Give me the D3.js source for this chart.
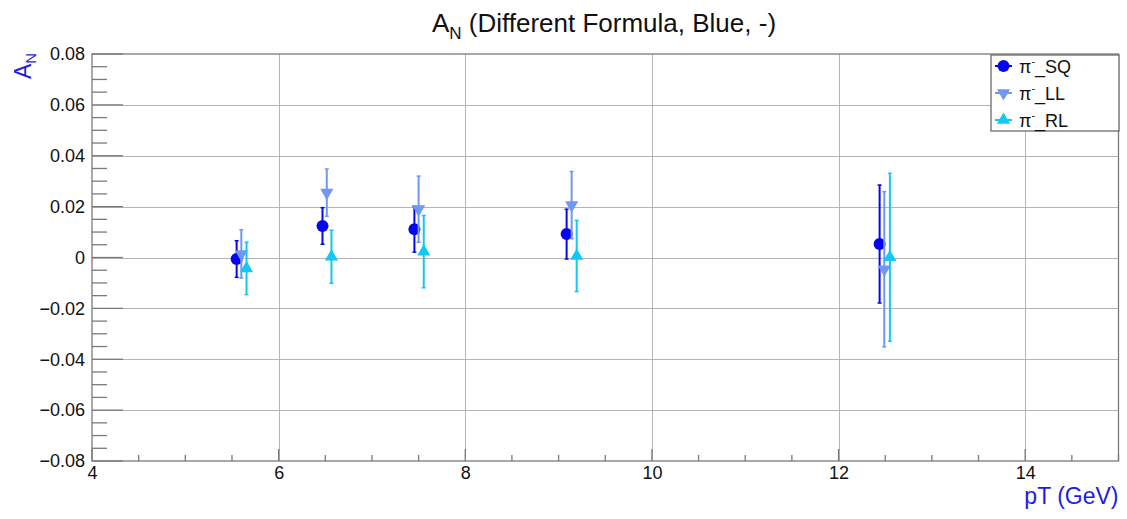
<!DOCTYPE html>
<html>
<head>
<meta charset="utf-8">
<script src="https://cdn.jsdelivr.net/npm/d3@7"></script>
<style>
  html, body { margin: 0; padding: 0; background: #fff; }
  svg { display: block; font-family: "Liberation Sans", Arial, Helvetica, sans-serif; }
</style>
</head>
<body>
<svg id="chart" width="1127" height="519"></svg>
<script>
// ---- data ----
const seriesNames = ["SQ", "LL", "RL"];
const sqX   = [5.55, 6.47, 7.455, 9.086, 12.44];
const sqY   = [-0.0006, 0.0124, 0.0111, 0.0092, 0.0053];
const sqErr = [0.0072, 0.0072, 0.0090, 0.0098, 0.0232];
const llX   = [5.60, 6.516, 7.50, 9.14, 12.49];
const llY   = [0.0014, 0.0255, 0.0190, 0.0206, -0.0046];
const llErr = [0.0095, 0.0093, 0.0130, 0.0132, 0.0305];
const rlX   = [5.656, 6.566, 7.555, 9.194, 12.55];
const rlY   = [-0.0043, 0.0003, 0.0023, 0.0006, 0.0001];
const rlErr = [0.0103, 0.0104, 0.0142, 0.0140, 0.0330];
const xTicks = [4, 6, 8, 10, 12, 14];
const yTicks = [-0.08, -0.06, -0.04, -0.02, 0, 0.02, 0.04, 0.06, 0.08];
const yTickLabels = ["\u22120.08", "\u22120.06", "\u22120.04", "\u22120.02", "0", "0.02", "0.04", "0.06", "0.08"];

const colors = { SQ: "#0606ee", LL: "#6f98f5", RL: "#12c8f5" };

// ---- layout ----
const svg = d3.select("#chart");
const L = 92, R = 1118.5, T = 54, B = 461;
const x = d3.scaleLinear().domain([4, 15]).range([L, R]);
const y = d3.scaleLinear().domain([-0.08, 0.08]).range([B, T]);

// grid
const grid = svg.append("g").attr("stroke", "#b4b4b4").attr("stroke-width", 1).attr("shape-rendering", "crispEdges");
xTicks.forEach(t => { if (t > 4) grid.append("line").attr("x1", Math.round(x(t)) + 0.5).attr("x2", Math.round(x(t)) + 0.5).attr("y1", T).attr("y2", B); });
yTicks.forEach(t => { if (t > -0.08 && t < 0.08) grid.append("line").attr("x1", L).attr("x2", R).attr("y1", Math.round(y(t)) + 0.5).attr("y2", Math.round(y(t)) + 0.5); });

// frame
svg.append("rect").attr("x", L).attr("y", T).attr("width", R - L).attr("height", B - T)
  .attr("fill", "none").attr("stroke", "#7a7a7a").attr("stroke-width", 1.3);

// x axis
const xMinor = d3.range(4, 15.01, 0.5);
const xAxis = d3.axisBottom(x).tickValues(xTicks).tickFormat(d3.format("d")).tickSize(0).tickPadding(5);
const gx = svg.append("g").attr("transform", `translate(0,${B})`).call(xAxis);
gx.select(".domain").remove();
gx.selectAll("text").attr("font-size", 18).attr("fill", "#111").attr("font-family", "Liberation Sans, Arial, sans-serif");
const tk = svg.append("g").attr("stroke", "#7a7a7a").attr("stroke-width", 1.3);
xMinor.forEach(t => {
  const major = Math.abs(t - Math.round(t)) < 1e-9 && Math.round(t) % 2 === 0;
  tk.append("line").attr("x1", x(t)).attr("x2", x(t)).attr("y1", B).attr("y2", B - (major ? 12 : 6));
});

// y axis
const yAxis = d3.axisLeft(y).tickValues(yTicks).tickFormat((d, i) => yTickLabels[i]).tickSize(0).tickPadding(7);
const gy = svg.append("g").attr("transform", `translate(${L},0)`).call(yAxis);
gy.select(".domain").remove();
gy.selectAll("text").attr("font-size", 18).attr("fill", "#111").attr("font-family", "Liberation Sans, Arial, sans-serif");
const yMinor = d3.range(-0.08, 0.0801, 0.005);
yMinor.forEach(t => {
  const major = Math.abs(Math.round(t / 0.02) * 0.02 - t) < 1e-9;
  tk.append("line").attr("x1", L).attr("x2", L + (major ? 31 : 15)).attr("y1", y(t)).attr("y2", y(t));
});

// title
const title = svg.append("text").attr("x", 604).attr("y", 32).attr("text-anchor", "middle")
  .attr("font-size", 26).attr("fill", "#111");
title.append("tspan").text("A");
title.append("tspan").attr("font-size", 17).attr("dy", 7).text("N");
title.append("tspan").attr("dy", -7).text(" (Different Formula, Blue, -)");

// axis titles
const yl = svg.append("text").attr("transform", `translate(31,79) rotate(-90)`).attr("text-anchor", "start")
  .attr("font-size", 23).attr("fill", "#1c1ce0");
yl.append("tspan").text("A");
yl.append("tspan").attr("font-size", 15).attr("dy", 5).text("N");
svg.append("text").attr("x", R).attr("y", 504).attr("text-anchor", "end")
  .attr("font-size", 23).attr("fill", "#1c1ce0").text("pT (GeV)");

// markers
const tri = d3.symbol().type(d3.symbolTriangle).size(75);
function drawSeries(name, xs, ys, es, shape) {
  const c = colors[name];
  const g = svg.append("g");
  xs.forEach((xv, i) => {
    const px = x(xv), py = y(ys[i]), top = y(ys[i] + es[i]), bot = y(ys[i] - es[i]);
    g.append("line").attr("x1", px).attr("x2", px).attr("y1", top).attr("y2", bot).attr("stroke", c).attr("stroke-width", 2);
    g.append("line").attr("x1", px - 2).attr("x2", px + 2).attr("y1", top).attr("y2", top).attr("stroke", c).attr("stroke-width", 1.5);
    g.append("line").attr("x1", px - 2).attr("x2", px + 2).attr("y1", bot).attr("y2", bot).attr("stroke", c).attr("stroke-width", 1.5);
    drawMarker(g, shape, px, py, c);
  });
}
function drawMarker(g, shape, px, py, c) {
  if (shape === "circle") {
    g.append("circle").attr("cx", px).attr("cy", py).attr("r", 6).attr("fill", c);
  } else if (shape === "down") {
    g.append("path").attr("d", tri).attr("transform", `translate(${px},${py}) rotate(180)`).attr("fill", c);
  } else {
    g.append("path").attr("d", tri).attr("transform", `translate(${px},${py})`).attr("fill", c);
  }
}
drawSeries("SQ", sqX, sqY, sqErr, "circle");
drawSeries("LL", llX, llY, llErr, "down");
drawSeries("RL", rlX, rlY, rlErr, "up");

// legend
const lg = svg.append("g");
lg.append("rect").attr("x", 991).attr("y", 55).attr("width", 128).attr("height", 76)
  .attr("fill", "#fff").attr("stroke", "#6a6a6a").attr("stroke-width", 1.3);
const shapes = { SQ: "circle", LL: "down", RL: "up" };
seriesNames.forEach((n, i) => {
  const cy = 66 + i * 27;
  const c = colors[n];
  lg.append("line").attr("x1", 995).attr("x2", 1012).attr("y1", cy).attr("y2", cy).attr("stroke", c).attr("stroke-width", 2);
  drawMarker(lg, shapes[n], 1003.5, cy, c);
  const t = lg.append("text").attr("x", 1019).attr("y", cy + 7).attr("font-size", 18).attr("fill", "#111");
  t.append("tspan").text("\u03C0");
  t.append("tspan").attr("font-size", 11).attr("dy", -8).text("-");
  t.append("tspan").attr("dy", 8).text("_" + n);
});
</script>
</body>
</html>
